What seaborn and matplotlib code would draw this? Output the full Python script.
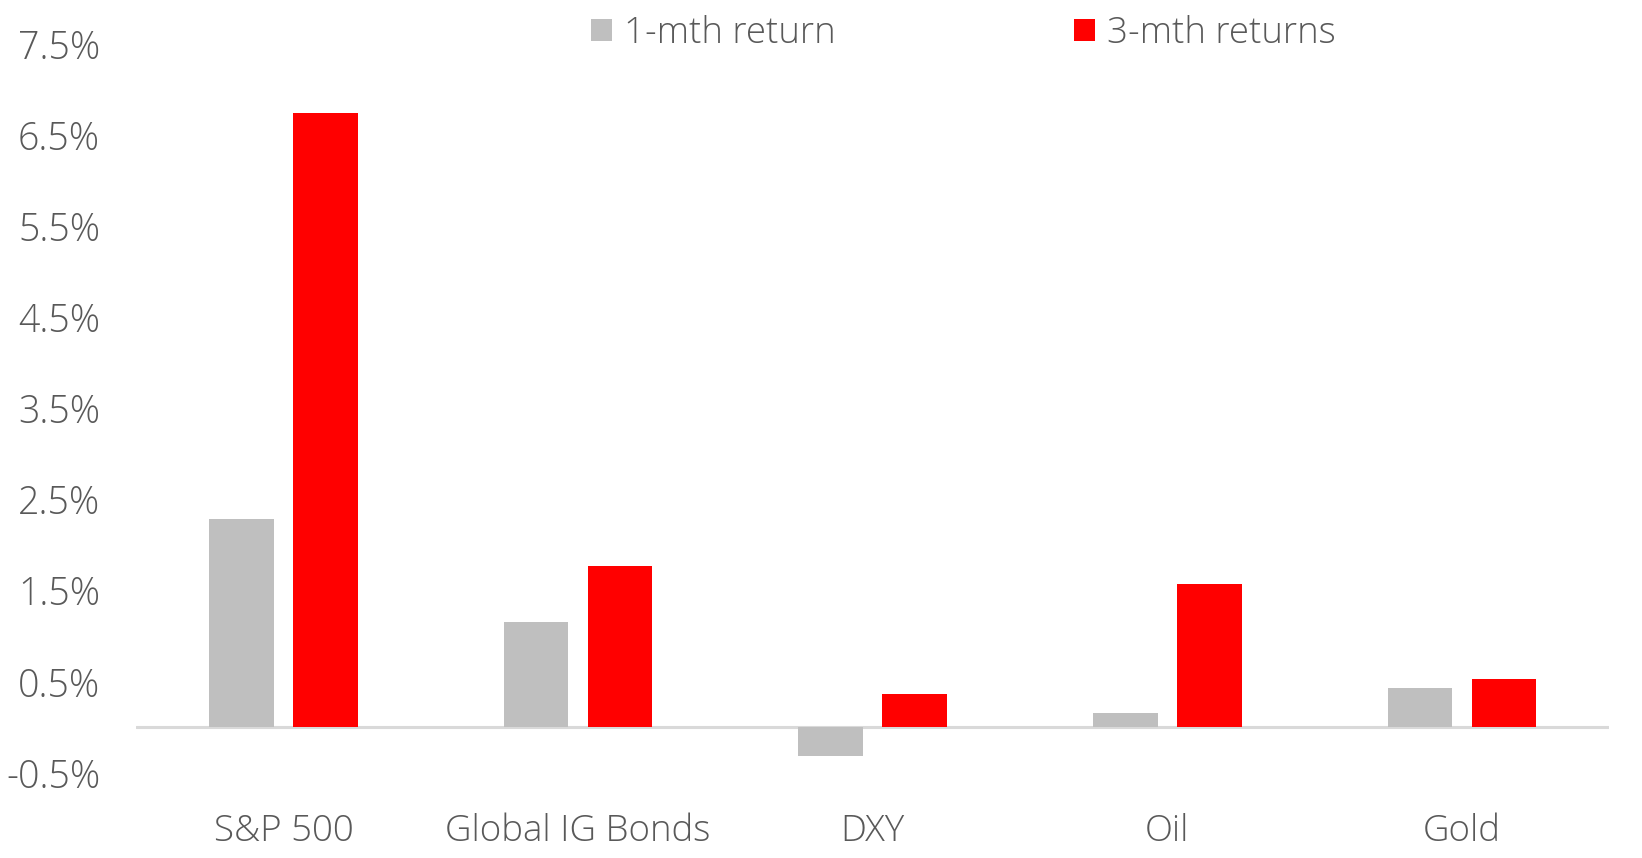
import pandas as pd
import matplotlib
matplotlib.use("Agg")
import matplotlib.pyplot as plt
import seaborn as sns

categories = ["S&P 500", "Global IG Bonds", "DXY", "Oil", "Gold"]
one_month = [2.29, 1.16, -0.31, 0.16, 0.43]
three_month = [6.74, 1.77, 0.37, 1.57, 0.53]
series_names = ["1-mth return", "3-mth returns"]
y_ticks = [-0.5, 0.5, 1.5, 2.5, 3.5, 4.5, 5.5, 6.5, 7.5]

df = pd.DataFrame({
    "asset": categories * 2,
    "value": one_month + three_month,
    "series": [series_names[0]] * len(categories) + [series_names[1]] * len(categories),
})

sns.set_theme(style="white")
plt.rcParams["font.family"] = ["Open Sans", "DejaVu Sans"]
text_color = "#595959"

fig = plt.figure(figsize=(16.42, 8.58), dpi=100)
ax = fig.add_axes([0.083, 0.099, 0.897, 0.850])

sns.barplot(
    data=df, x="asset", y="value", hue="series", ax=ax,
    palette={series_names[0]: "#bfbfbf", series_names[1]: "#ff0000"},
    width=0.57, gap=0.23, saturation=1, linewidth=0,
)

ax.set_xlim(-0.5, len(categories) - 0.5)
ax.set_ylim(-0.5, 7.5)
ax.set_yticks(y_ticks)
ax.set_yticklabels([f"{t:.1f}%" for t in y_ticks])
ax.axhline(0, color="#d9d9d9", linewidth=2.2, zorder=0.5)

for side in ["top", "right", "left", "bottom"]:
    ax.spines[side].set_visible(False)
ax.set_xlabel("")
ax.set_ylabel("")
ax.tick_params(axis="y", length=0, pad=26, labelsize=27, labelcolor=text_color)
ax.tick_params(axis="x", length=0, pad=29, labelsize=26.4, labelcolor=text_color)
for lbl in ax.get_xticklabels() + ax.get_yticklabels():
    lbl.set_fontweight("light")

handles, labels = ax.get_legend_handles_labels()
ax.legend_.remove()
leg = fig.legend(
    handles, labels, loc="center", bbox_to_anchor=(0.587, 0.961), ncol=2,
    frameon=False, fontsize=26.4, handlelength=0.57, handleheight=0.57,
    handletextpad=0.33, columnspacing=6.5,
)
for t in leg.get_texts():
    t.set_color(text_color)
    t.set_fontweight("light")

fig.savefig("out.png", dpi=100)
